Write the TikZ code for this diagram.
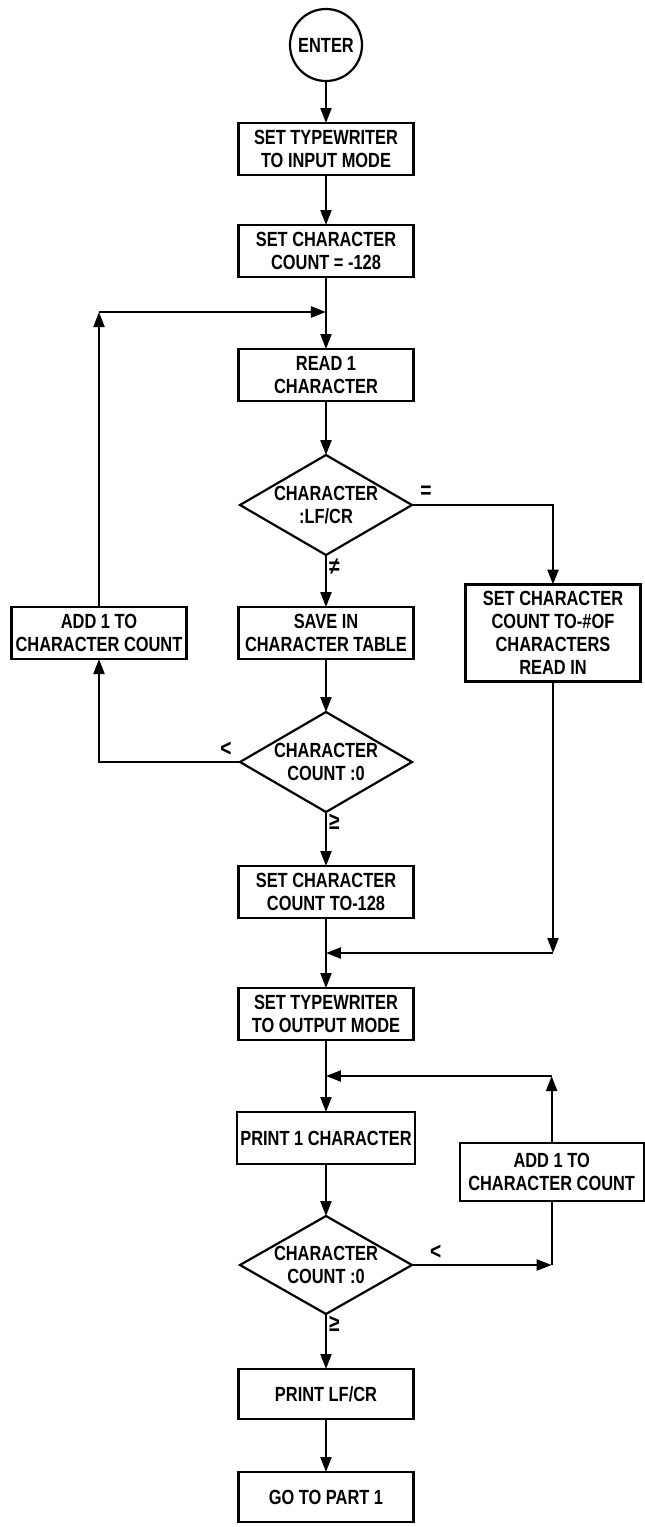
\documentclass[tikz,border=0pt]{standalone}
\usepackage{fontspec}
\newfontfamily\flowfont{Liberation Sans}[FakeStretch=0.8]
\usetikzlibrary{arrows.meta, positioning, shapes.geometric}

\begin{document}
\begin{tikzpicture}[
      node distance=50pt,
      box/.style={draw, align=center, outer sep=0pt,
                  minimum width=175pt, minimum height=52pt,
                  inner sep=3pt, font=\flowfont\bfseries\fontsize{20.5}{23}\selectfont},
      decision/.style={draw, diamond, aspect=1.72, align=center, outer sep=0pt,
                       minimum width=172pt, minimum height=100pt,
                       inner sep=0pt, font=\flowfont\bfseries\fontsize{20.5}{23}\selectfont},
      terminal/.style={draw, circle, minimum size=72pt, outer sep=0pt,
                       inner sep=0pt, font=\flowfont\bfseries\fontsize{20.5}{23}\selectfont},
      lbl/.style={inner sep=2pt, font=\flowfont\bfseries\fontsize{24}{24}\selectfont},
      >={Triangle[length=15pt, width=11pt]},
      every path/.style={line width=2.2pt}
    ]
    \useasboundingbox (-326pt,45pt) rectangle (319pt,-1482pt);

    % input part
    \node[terminal] (enter) {ENTER};
    \node[box, below=42pt of enter] (inmode) {SET TYPEWRITER\\TO INPUT MODE};
    \node[box, below=50pt of inmode] (setcnt) {SET CHARACTER\\COUNT = -128};
    \node[box, below=72pt of setcnt] (read) {READ 1\\CHARACTER};
    \node[decision, below=54pt of read] (islfcr) {CHARACTER\\:LF/CR};
    \node[box, below=52pt of islfcr] (save) {SAVE IN\\CHARACTER TABLE};
    \node[box, left=52pt of save] (adda) {ADD 1 TO\\CHARACTER COUNT};
    \node[box, right=52pt of save, minimum height=97pt] (readin)
         {SET CHARACTER\\COUNT TO-\#OF\\CHARACTERS\\READ IN};
    \node[decision, below=53pt of save] (cnta) {CHARACTER\\COUNT :0};
    \node[box, below=54pt of cnta] (setneg) {SET CHARACTER\\COUNT TO-128};

    % output part
    \node[box, below=70pt of setneg] (outmode) {SET TYPEWRITER\\TO OUTPUT MODE};
    \node[box, below=72pt of outmode] (print) {PRINT 1 CHARACTER};
    \node[box, right=45pt of print, yshift=-34pt,
          minimum width=184pt, minimum height=58pt] (addb) {ADD 1 TO\\CHARACTER COUNT};
    \node[decision, below=52pt of print, minimum height=98pt] (cntb) {CHARACTER\\COUNT :0};
    \node[box, below=55pt of cntb, minimum height=50pt] (printlf) {PRINT LF/CR};
    \node[box, below=53pt of printlf, minimum height=50pt] (goto) {GO TO PART 1};

    % junctions
    \coordinate[below=35pt of setcnt] (m1);
    \coordinate[below=35pt of setneg] (m2);
    \coordinate[below=36pt of outmode] (m3);
    \coordinate (c1) at (adda.north |- m1);
    \coordinate (c2) at (readin.south |- m2);
    \coordinate (c3) at (addb.south |- cntb.east);
    \coordinate (c4) at (addb.north |- m3);

    \draw[->] (enter)  -- (inmode);
    \draw[->] (inmode) -- (setcnt);
    \draw[->] (setcnt) -- (read);
    \draw[->] (read)   -- (islfcr);
    \draw[->] (islfcr) -| node[lbl, pos=0.05, above, yshift=3pt]{=} (readin);
    \draw[->] (islfcr) -- node[lbl, pos=0.22, right]{≠} (save);
    \draw[->] (save)   -- (cnta);
    \draw[->] (cnta)   -| node[lbl, pos=0.05, above, yshift=2pt]{<} (adda);
    \draw[->] (adda)   -- (c1);
    \draw[->] (c1)     -- (m1);
    \draw[->] (cnta)   -- node[lbl, pos=0.18, right]{≥} (setneg);
    \draw[->] (readin) -- (c2);
    \draw[->] (c2)     -- (m2);
    \draw[->] (setneg) -- (outmode);
    \draw[->] (outmode) -- (print);
    \draw[->] (print)  -- (cntb);
    \draw[->] (cntb)   -- node[lbl, pos=0.17, above, yshift=2pt]{<} (c3);
    \draw     (c3)     -- (addb);
    \draw[->] (addb)   -- (c4);
    \draw[->] (c4)     -- (m3);
    \draw[->] (cntb)   -- node[lbl, pos=0.18, right]{≥} (printlf);
    \draw[->] (printlf) -- (goto);
\end{tikzpicture}
\end{document}
